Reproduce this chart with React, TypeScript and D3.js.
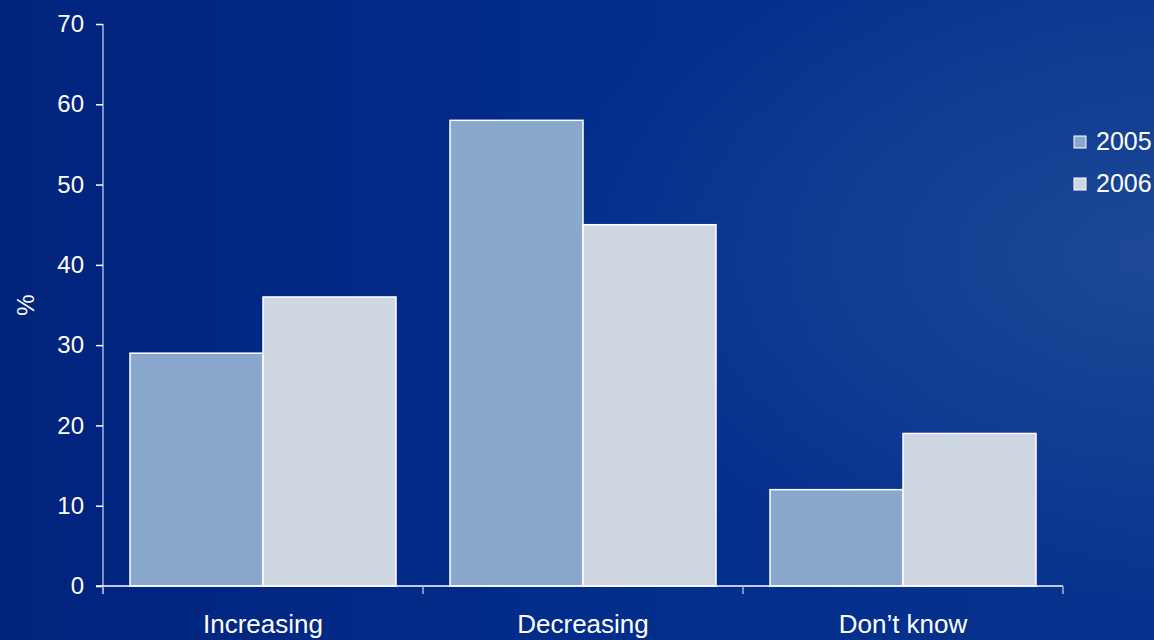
import { useEffect, useRef } from "react";
import * as d3 from "d3";

const categories = ["Increasing", "Decreasing", "Don\u2019t know"];
const seriesNames = ["2005", "2006"];
const values2005 = [29, 58, 12];
const values2006 = [36, 45, 19];
const yTicks = [0, 10, 20, 30, 40, 50, 60, 70];
const colors = ["#8aa7cc", "#cdd6e1"];

export default function App() {
  const svgRef = useRef<SVGSVGElement>(null);

  useEffect(() => {
    if (!svgRef.current) return;
    const width = 1154;
    const height = 640;
    const margin = { top: 24, right: 91, bottom: 54, left: 103 };
    const innerWidth = width - margin.left - margin.right;
    const innerHeight = height - margin.top - margin.bottom;
    const font = "Liberation Sans, Arial, sans-serif";

    const svg = d3.select(svgRef.current);
    svg.selectAll("*").remove();

    // background
    const defs = svg.append("defs");
    const bg = defs
      .append("linearGradient")
      .attr("id", "bg-lin")
      .attr("x1", "0%")
      .attr("y1", "0%")
      .attr("x2", "100%")
      .attr("y2", "0%");
    bg.append("stop").attr("offset", "0%").attr("stop-color", "#01237c");
    bg.append("stop").attr("offset", "55%").attr("stop-color", "#022e8c");
    bg.append("stop").attr("offset", "100%").attr("stop-color", "#07338e");
    const glow = defs
      .append("radialGradient")
      .attr("id", "bg-glow")
      .attr("cx", "100%")
      .attr("cy", "40%")
      .attr("r", "55%");
    glow.append("stop").attr("offset", "0%").attr("stop-color", "#24509a").attr("stop-opacity", 0.75);
    glow.append("stop").attr("offset", "100%").attr("stop-color", "#24509a").attr("stop-opacity", 0);

    svg.append("rect").attr("width", width).attr("height", height).attr("fill", "url(#bg-lin)");
    svg.append("rect").attr("width", width).attr("height", height).attr("fill", "url(#bg-glow)");

    const g = svg.append("g").attr("transform", `translate(${margin.left},${margin.top})`);

    const x0 = d3.scaleBand().domain(categories).range([0, innerWidth]).paddingInner(0).paddingOuter(0);
    const x1 = d3
      .scaleBand()
      .domain(seriesNames)
      .range([27, x0.bandwidth() - 27]);
    const y = d3.scaleLinear().domain([0, 70]).range([innerHeight, 0]);

    const data = categories.map((c, i) => ({
      category: c,
      values: [values2005[i], values2006[i]],
    }));

    // bars
    const groups = g
      .selectAll("g.cat")
      .data(data)
      .enter()
      .append("g")
      .attr("class", "cat")
      .attr("transform", (d) => `translate(${x0(d.category)},0)`);

    groups
      .selectAll("rect")
      .data((d) => d.values.map((v, j) => ({ key: seriesNames[j], value: v, j })))
      .enter()
      .append("rect")
      .attr("x", (d) => x1(d.key)!)
      .attr("y", (d) => y(d.value))
      .attr("width", x1.bandwidth())
      .attr("height", (d) => innerHeight - y(d.value))
      .attr("fill", (d) => colors[d.j])
      .attr("stroke", "#ffffff")
      .attr("stroke-width", 1.5);

    // y axis
    const yAxis = d3
      .axisLeft(y)
      .tickValues(yTicks)
      .tickSize(7)
      .tickPadding(12)
      .tickFormat((d) => `${d}`);
    const ya = g.append("g").call(yAxis);
    ya.select(".domain").attr("stroke", "#a6b4d8").attr("stroke-width", 1.5).attr("d", `M0,0V${innerHeight + 8}`);
    ya.selectAll(".tick line").attr("stroke", "#ffffff").attr("stroke-width", 1.5);
    ya.selectAll(".tick text")
      .attr("fill", "#ffffff")
      .style("font-family", font)
      .style("font-size", "24px");

    // x axis
    const xa = g.append("g").attr("transform", `translate(0,${innerHeight})`);
    xa.append("line")
      .attr("x1", -7)
      .attr("x2", innerWidth)
      .attr("stroke", "#ffffff")
      .attr("stroke-width", 1.5);
    const tickPos = [0, ...categories.map((c) => x0(c)! + x0.bandwidth())];
    xa.selectAll("line.xt")
      .data(tickPos)
      .enter()
      .append("line")
      .attr("class", "xt")
      .attr("x1", (d) => d)
      .attr("x2", (d) => d)
      .attr("y1", 0)
      .attr("y2", 8)
      .attr("stroke", "#a6b4d8")
      .attr("stroke-width", 1.5);
    xa.selectAll("text")
      .data(categories)
      .enter()
      .append("text")
      .attr("x", (d) => x0(d)! + x0.bandwidth() / 2)
      .attr("y", 47)
      .attr("text-anchor", "middle")
      .attr("fill", "#ffffff")
      .style("font-family", font)
      .style("font-size", "26px")
      .text((d) => d);

    // y label
    g.append("text")
      .attr("transform", `translate(-69,${y(35)}) rotate(-90)`)
      .attr("text-anchor", "middle")
      .attr("fill", "#ffffff")
      .style("font-family", font)
      .style("font-size", "24px")
      .text("%");

    // legend
    const legend = svg.append("g").attr("transform", "translate(1074,136)");
    seriesNames.forEach((s, i) => {
      const row = legend.append("g").attr("transform", `translate(0,${i * 42})`);
      row
        .append("rect")
        .attr("width", 12)
        .attr("height", 12)
        .attr("fill", colors[i])
        .attr("stroke", "#ffffff")
        .attr("stroke-width", 1);
      row
        .append("text")
        .attr("x", 22)
        .attr("y", 14)
        .attr("fill", "#ffffff")
        .style("font-family", font)
        .style("font-size", "25px")
        .text(s);
    });
  }, []);

  return (
    <svg
      ref={svgRef}
      width={1154}
      height={640}
      style={{ position: "absolute", left: 0, top: 0, display: "block" }}
    />
  );
}
